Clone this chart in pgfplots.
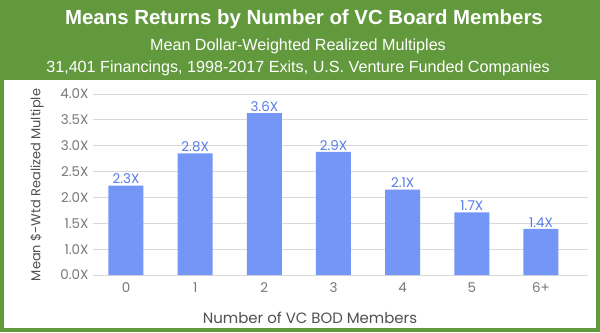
\documentclass[border=0pt]{standalone}
\usepackage{pgfplots}
\pgfplotsset{compat=1.18}
\usepackage{fontspec}
\setmainfont{Liberation Sans}
\newfontfamily\gothic{Poppins}
\definecolor{bggreen}{RGB}{98,153,60}
\definecolor{barblue}{RGB}{116,150,247}
\definecolor{labblue}{RGB}{88,124,232}
\definecolor{tickgray}{RGB}{120,120,120}
\definecolor{titlegray}{RGB}{80,80,80}
\begin{document}
\begin{tikzpicture}[x=1bp,y=1bp]
\fill[bggreen] (0,0) rectangle (600,-332);
\fill[white] (4,-80) rectangle (596,-328);
\node[white,font=\fontsize{20.5}{24}\selectfont\bfseries] at (304,-19) {Means Returns by Number of VC Board Members};
\node[white,font=\fontsize{16.2}{18}\selectfont] at (298,-46) {Mean Dollar-Weighted Realized Multiples};
\node[white,font=\fontsize{16.2}{18}\selectfont] at (298,-68) {31,401 Financings, 1998-2017 Exits, U.S. Venture Funded Companies};
\node[rotate=90,text=titlegray,font=\gothic\fontsize{13}{15}\selectfont] at (37,-185) {Mean \$-Wtd Realized Multiple};
\node[text=titlegray,font=\gothic\fontsize{15}{17}\selectfont] at (310,-318) {Number of VC BOD Members};
\begin{axis}[
  at={(93bp,-275bp)}, anchor=south west,
  scale only axis, width=495bp, height=181bp,
  ymin=0.5, ymax=4.0,
  ytick={0.5,1,1.5,2,2.5,3,3.5,4},
  yticklabels={0.0X,1.0X,1.5X,2.0X,2.5X,3.0X,3.5X,4.0X},
  xmin=-0.477, xmax=6.68,
  xtick={0,1,2,3,4,5,6},
  xticklabels={0,1,2,3,4,5,6+},
  axis line style={draw=none},
  tick style={draw=none},
  ymajorgrids,
  major grid style={draw=black!15, line width=0.8bp},
  ticklabel style={text=tickgray, font=\gothic\fontsize{13.5}{15}\selectfont},
  xticklabel style={yshift=-4bp},
  yticklabel style={xshift=-1bp},
  clip=true,
]
\addplot[ybar, fill=barblue, draw=none, bar width=35bp,
  nodes near coords, point meta=explicit symbolic,
  nodes near coords style={text=labblue, font=\gothic\fontsize{13.5}{15}\selectfont, inner sep=1.5bp}]
  table[meta=lab] {
x y lab
0 2.23 2.3X
1 2.85 2.8X
2 3.63 3.6X
3 2.88 2.9X
4 2.15 2.1X
5 1.71 1.7X
6 1.39 1.4X
};
\end{axis}
\end{tikzpicture}
\end{document}
